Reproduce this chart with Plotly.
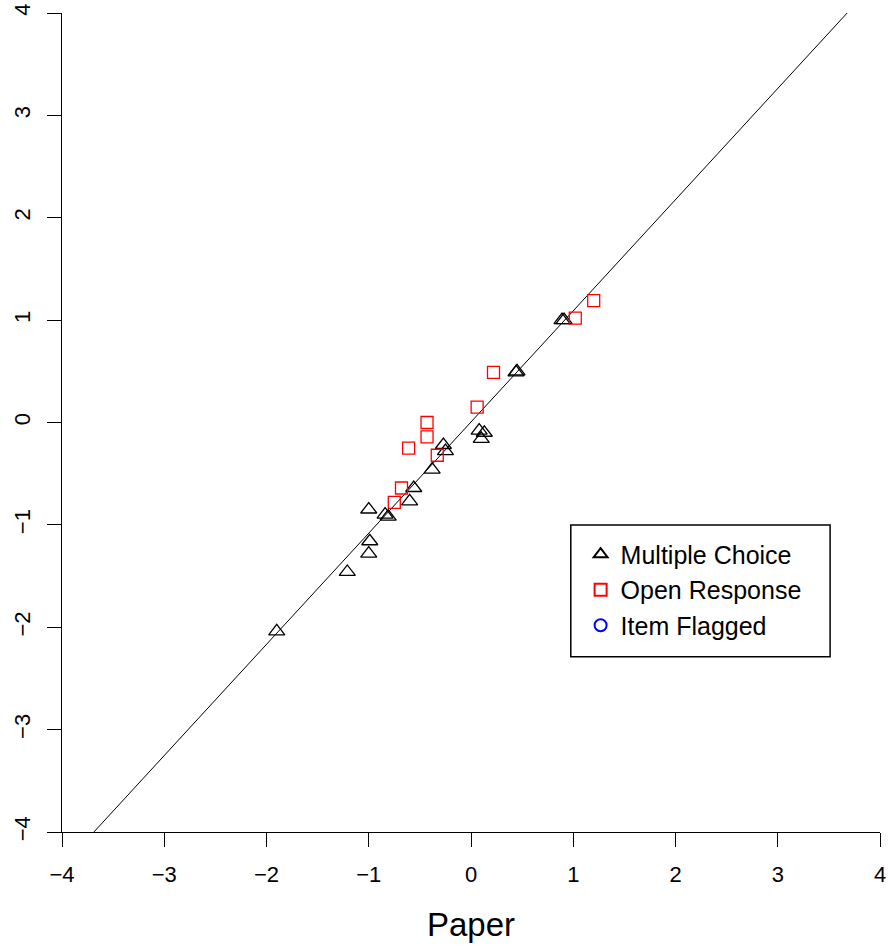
import plotly.graph_objects as go

# Multiple Choice items (triangles)
mc_x = [-1.90, -1.21, -1.00, -0.99, -1.00, -0.84, -0.81, -0.60, -0.56, -0.38,
        -0.27, -0.25, 0.08, 0.13, 0.10, 0.45, 0.44, 0.89, 0.91]
mc_y = [-2.04, -1.46, -1.28, -1.16, -0.85, -0.90, -0.92, -0.77, -0.64, -0.46,
        -0.22, -0.28, -0.08, -0.10, -0.16, 0.50, 0.49, 1.00, 1.00]

# Open Response items (squares)
or_x = [1.20, 1.02, 0.22, 0.06, -0.43, -0.43, -0.61, -0.33, -0.68, -0.75]
or_y = [1.19, 1.02, 0.49, 0.15, 0.00, -0.14, -0.25, -0.32, -0.64, -0.78]

# Reference line y = a + b*x
line_intercept = 0.005
line_slope = 1.086
line_x = [-5, 5]
line_y = [line_intercept + line_slope * v for v in line_x]

tick_vals = [-4, -3, -2, -1, 0, 1, 2, 3, 4]
tick_text = ["\u22124", "\u22123", "\u22122", "\u22121", "0", "1", "2", "3", "4"]

FONT = "Liberation Sans, Arial, sans-serif"

fig = go.Figure()
fig.add_trace(go.Scatter(x=line_x, y=line_y, mode="lines",
                         line=dict(color="black", width=1), showlegend=False,
                         hoverinfo="skip"))
fig.add_trace(go.Scatter(x=mc_x, y=mc_y, mode="markers", name="Multiple Choice",
                         marker=dict(symbol="triangle-up-open", size=14,
                                     color="black", line=dict(width=1.3))))
fig.add_trace(go.Scatter(x=or_x, y=or_y, mode="markers", name="Open Response",
                         marker=dict(symbol="square-open", size=12,
                                     color="red", line=dict(width=1.3))))
fig.add_trace(go.Scatter(x=[None], y=[None], mode="markers", name="Item Flagged",
                         marker=dict(symbol="circle-open", size=12,
                                     color="blue", line=dict(width=1.3))))

# legend box
fig.add_shape(type="rect", xref="paper", yref="paper",
              x0=0.622, x1=0.939, y0=0.214, y1=0.375,
              line=dict(color="black", width=1.5), fillcolor="rgba(0,0,0,0)")

fig.update_layout(
    width=888, height=948,
    margin=dict(l=62, r=8, t=13, b=116),
    plot_bgcolor="white", paper_bgcolor="white",
    font=dict(family=FONT, color="black"),
    showlegend=True,
    legend=dict(x=0.634, y=0.367, xanchor="left", yanchor="top",
                bgcolor="rgba(0,0,0,0)", borderwidth=0,
                font=dict(size=25, family=FONT), itemsizing="constant",
                tracegroupgap=0, itemwidth=30),
    xaxis=dict(range=[-4, 4], showgrid=False, zeroline=False, automargin=False,
               showline=True, linecolor="black", linewidth=1.2,
               ticks="outside", ticklen=14, tickwidth=1.2, tickcolor="black",
               tickvals=tick_vals, ticktext=tick_text,
               tickfont=dict(size=22, family=FONT), ticklabelstandoff=8,
               title=dict(text="Paper", font=dict(size=33, family=FONT), standoff=27)),
    yaxis=dict(range=[-4, 4], showgrid=False, zeroline=False, automargin=False,
               showline=True, linecolor="black", linewidth=1.2,
               ticks="outside", ticklen=14, tickwidth=1.2, tickcolor="black",
               tickvals=tick_vals, ticktext=tick_text, tickangle=-90,
               tickfont=dict(size=22, family=FONT), ticklabelstandoff=8),
)

# remove the browser's default 8px body margin so the figure fills the window
fig.write_html("out.html", config={"displayModeBar": False},
               post_script="document.body.style.margin='0px';")
